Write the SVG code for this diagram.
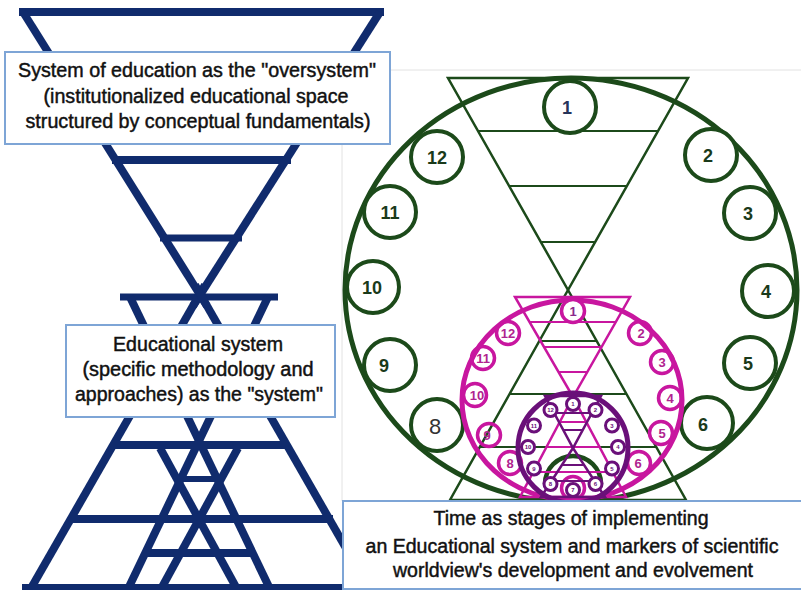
<svg xmlns="http://www.w3.org/2000/svg" width="801" height="590" viewBox="0 0 801 590">
<style>
.box{fill:#fff;stroke:#7ea5d6;stroke-width:2}
.lbl{font-family:"Liberation Sans",Arial,sans-serif;font-size:19.5px;fill:#111;stroke:#111;stroke-width:0.45;text-anchor:middle}
.nv{stroke:#102b6d;stroke-width:8;fill:none}
.g{stroke:#1c4a1a;fill:none}
.gc{fill:#fff;stroke:#1c4a1a;stroke-width:4}
.gn{font-family:"Liberation Sans",Arial,sans-serif;font-weight:bold;font-size:18px;fill:#1a3a1a;text-anchor:middle}
.m{stroke:#c8169f;fill:none}
.mc{fill:none;stroke:#c8169f;stroke-width:3.5}
.mn{font-family:"Liberation Sans",Arial,sans-serif;font-weight:bold;font-size:13px;fill:#b0238f;text-anchor:middle}
.p{stroke:#6a1079;fill:none}
.pc{fill:#fff;stroke:#6a1079;stroke-width:3}
.pn{font-family:"Liberation Sans",Arial,sans-serif;font-weight:bold;font-size:6px;fill:#6a1079;text-anchor:middle}
.frame{stroke:#e2e2e2;stroke-width:1;fill:none}
</style>
<rect width="801" height="590" fill="#fff"/>
<g id="frame">
<path class="frame" d="M342,143 V501 M390,70 H801"/>
</g>
<g id="oversystem-figure" class="nv">
<path d="M19,12 H384"/>
<path d="M23,12 L207,306"/>
<path d="M380,12 L193,306"/>
<path d="M112,160 H291"/>
<path d="M160,238 H242" stroke-width="7"/>
</g>
<g id="system-figure" class="nv">
<path d="M120,297 H278" stroke-width="7"/>
<path d="M130,297 L270,589"/>
<path d="M268,297 L128,589"/>
<path d="M205,285 L30,590"/>
<path d="M195,285 L370,590"/>
<path d="M160,448 L237,589"/>
<path d="M238,448 L161,589"/>
<path d="M111,445 H289"/>
<path d="M179,479 H219" stroke-width="6"/>
<path d="M69,519 H333"/>
<path d="M143,553 H255"/>
<path d="M22,588 H378"/>
</g>
<g id="time-figure">
<g id="green-clock">
<ellipse class="g" cx="571" cy="290" rx="226" ry="212" stroke-width="5"/>
<polygon class="g" points="448,78 688,78 568,290" stroke-width="2.5"/>
<polygon class="g" points="568,290 450,500 686,500" stroke-width="2.5"/>
<path class="g" stroke-width="2.2" d="M478,131 H658 M509,186 H627 M541,242 H595 M539,341 H597 M510,394 H626 M480,447 H656"/>
<path class="g" stroke-width="4.5" d="M545,484 A28,28 0 0 1 601,484"/>
<circle class="gc" cx="570" cy="107" r="26"/><text class="gn" x="567" y="114" style="fill:#26345a">1</text>
<circle class="gc" cx="711" cy="155" r="26"/><text class="gn" x="708" y="162">2</text>
<circle class="gc" cx="750" cy="213" r="26"/><text class="gn" x="748" y="220">3</text>
<circle class="gc" cx="768" cy="291" r="26"/><text class="gn" x="766" y="298">4</text>
<circle class="gc" cx="750" cy="363" r="26"/><text class="gn" x="748" y="370">5</text>
<circle class="gc" cx="707" cy="423" r="26"/><text class="gn" x="703" y="431">6</text>
<circle class="gc" cx="437" cy="425" r="26"/><text class="gn" x="435" y="434" style="font-weight:normal;font-size:22px;fill:#333">8</text>
<circle class="gc" cx="390" cy="365" r="26"/><text class="gn" x="384" y="372">9</text>
<circle class="gc" cx="373" cy="287" r="26"/><text class="gn" x="372" y="294">10</text>
<circle class="gc" cx="390" cy="212" r="26"/><text class="gn" x="390" y="219">11</text>
<circle class="gc" cx="437" cy="157" r="26"/><text class="gn" x="437" y="164">12</text>
</g>
<g id="magenta-clock">
<ellipse class="m" cx="572" cy="400" rx="110" ry="100" stroke-width="5"/>
<polygon class="m" points="515,297 630,297 573,397" stroke-width="2.5"/>
<polygon class="m" points="573,397 520,497 626,497" stroke-width="2.5"/>
<path class="m" stroke-width="2" d="M530,322 H616 M545,347 H602 M559,372 H587 M560,422 H586 M546,447 H600 M533,472 H613"/>
<circle class="mc" cx="573" cy="311" r="11.5" style="fill:#fff"/><text class="mn" x="573" y="316" style="fill:#8a2a8c">1</text>
<circle class="mc" cx="640" cy="333" r="11.5"/><text class="mn" x="641" y="338">2</text>
<circle class="mc" cx="662" cy="362" r="11.5"/><text class="mn" x="662" y="367">3</text>
<circle class="mc" cx="670" cy="398" r="11.5"/><text class="mn" x="670" y="403">4</text>
<circle class="mc" cx="661" cy="433" r="11.5"/><text class="mn" x="662" y="438">5</text>
<circle class="mc" cx="639" cy="463" r="11.5"/><text class="mn" x="638" y="468">6</text>
<circle class="mc" cx="573" cy="488" r="11.5"/>
<circle class="mc" cx="510" cy="463" r="11.5"/><text class="mn" x="510" y="468">8</text>
<circle class="mc" cx="489" cy="435" r="11.5"/><text class="mn" x="487" y="440">9</text>
<circle class="mc" cx="475" cy="395" r="11.5"/><text class="mn" x="477" y="400">10</text>
<circle class="mc" cx="483" cy="358" r="11.5"/><text class="mn" x="483" y="363">11</text>
<circle class="mc" cx="508" cy="333" r="11.5"/><text class="mn" x="508" y="338">12</text>
</g>
<g id="purple-clock">
<circle class="p" cx="573" cy="448" r="55" stroke-width="5"/>
<polygon class="p" points="545,396 601,396 573,448" stroke-width="2.5"/>
<polygon class="p" points="573,448 541,497 605,497" stroke-width="2.5"/>
<path class="p" stroke-width="2" d="M554,413 H592 M563,430 H583 M562,465 H584 M551,481 H595"/>
<circle class="pc" cx="573" cy="404" r="6.5"/><text class="pn" x="573" y="406">1</text>
<circle class="pc" cx="595.5" cy="410" r="6.5"/><text class="pn" x="595.5" y="412">2</text>
<circle class="pc" cx="612" cy="425.5" r="6.5"/><text class="pn" x="612" y="427.5">3</text>
<circle class="pc" cx="618" cy="447" r="6.5"/><text class="pn" x="618" y="449">4</text>
<circle class="pc" cx="612" cy="468.5" r="6.5"/><text class="pn" x="612" y="470.5">5</text>
<circle class="pc" cx="595.5" cy="484" r="6.5"/><text class="pn" x="595.5" y="486">6</text>
<circle class="pc" cx="573" cy="490" r="6.5"/><text class="pn" x="573" y="492">7</text>
<circle class="pc" cx="550.5" cy="484" r="6.5"/><text class="pn" x="550.5" y="486">8</text>
<circle class="pc" cx="534" cy="468.5" r="6.5"/><text class="pn" x="534" y="470.5">9</text>
<circle class="pc" cx="528" cy="447" r="6.5"/><text class="pn" x="528" y="449">10</text>
<circle class="pc" cx="534" cy="425.5" r="6.5"/><text class="pn" x="534" y="427.5">11</text>
<circle class="pc" cx="550.5" cy="410" r="6.5"/><text class="pn" x="550.5" y="412">12</text>
</g>
</g>
<g id="label-oversystem">
<rect class="box" x="5" y="52" width="385" height="92"/>
<text class="lbl" x="197" y="77" textLength="358" lengthAdjust="spacingAndGlyphs">System of education as the "oversystem"</text>
<text class="lbl" x="196" y="103" textLength="305" lengthAdjust="spacingAndGlyphs">(institutionalized educational space</text>
<text class="lbl" x="198" y="128" textLength="345" lengthAdjust="spacingAndGlyphs">structured by conceptual fundamentals)</text>
</g>
<g id="label-system">
<rect class="box" x="66" y="325" width="269" height="92"/>
<text class="lbl" x="198" y="351" textLength="170" lengthAdjust="spacingAndGlyphs">Educational system</text>
<text class="lbl" x="198" y="376" textLength="231" lengthAdjust="spacingAndGlyphs">(specific methodology and</text>
<text class="lbl" x="199" y="401" textLength="248" lengthAdjust="spacingAndGlyphs">approaches) as the "system"</text>
</g>
<g id="label-time">
<rect class="box" x="343" y="501" width="462" height="88"/>
<text class="lbl" x="571" y="525" textLength="275" lengthAdjust="spacingAndGlyphs">Time as stages of implementing</text>
<text class="lbl" x="572" y="553" textLength="413" lengthAdjust="spacingAndGlyphs">an Educational system and markers of scientific</text>
<text class="lbl" x="573" y="577" textLength="360" lengthAdjust="spacingAndGlyphs">worldview's development and evolvement</text>
</g>
</svg>
